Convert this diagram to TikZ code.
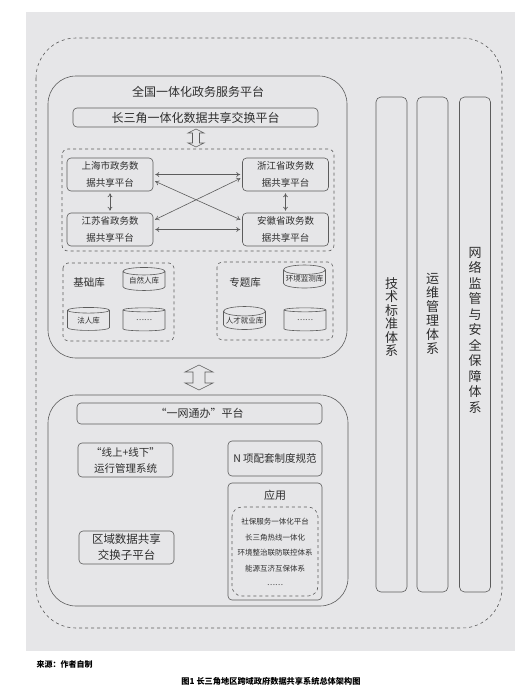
\documentclass[tikz,border=0pt]{standalone}
\usepackage{fontspec}
\setmainfont{Noto Sans CJK SC}
\usepackage{xcolor}
\usepackage{tikz}
\usetikzlibrary{arrows.meta, positioning, shapes.geometric}

\definecolor{bggray}{HTML}{E6E6E8}
\definecolor{linegray}{HTML}{5C5C5C}
\definecolor{txtgray}{HTML}{2E2E2E}

\begin{document}
\begin{tikzpicture}[x=1pt, y=-1pt, >={To[length=4pt,width=5pt]}, line width=0.6pt, text=txtgray,
  box/.style={draw=linegray, rounded corners=4pt, align=center, inner sep=0pt},
  db/.style={draw=linegray, cylinder, shape border rotate=90, aspect=0.25, minimum width=42pt, minimum height=23pt, inner sep=0pt, font=\fontsize{7.5}{9}\selectfont},
  bar/.style={draw=linegray, rounded corners=5pt, minimum width=31pt, minimum height=495pt, inner sep=0pt},
  link/.style={<->, linegray, shorten <=2pt, shorten >=2pt},
  ]
  \useasboundingbox (0,0) rectangle (527,697);
  % Background and outer frame
  \fill[bggray] (26,12) rectangle (515,651);
  \draw[linegray, dashed, rounded corners=40pt] (36,38) rectangle (502,628);

  % Upper platform
  \draw[linegray, rounded corners=28pt] (48,76) rectangle (347,358);
  \node[font=\fontsize{12}{14}\selectfont] (gov) at (198,92) {全国一体化政务服务平台};
  \node[box, minimum width=245pt, minimum height=19pt, font=\fontsize{12}{14}\selectfont] (xchg) at (195.5,117.5) {长三角一体化数据共享交换平台};
  % hollow double arrow
  \draw[linegray, shift={(196,138)}] (-3.5,-5) -- (-8,-5) -- (0,-9) -- (8,-5) -- (3.5,-5) -- (3.5,5) -- (8,5) -- (0,9) -- (-8,5) -- (-3.5,5) -- cycle;

  % Provincial platforms
  \draw[linegray, dashed, rounded corners=6pt] (62,149) rectangle (334,251);
  \node[box, minimum width=86pt, minimum height=33pt, font=\fontsize{9.5}{17}\selectfont] (sh) at (110,174.5) {上海市政务数\\据共享平台};
  \node[box, minimum width=86pt, minimum height=33pt, font=\fontsize{9.5}{17}\selectfont] (zj) at (285.5,174.5) {浙江省政务数\\据共享平台};
  \node[box, minimum width=86pt, minimum height=33pt, font=\fontsize{9.5}{17}\selectfont] (js) at (110,229.5) {江苏省政务数\\据共享平台};
  \node[box, minimum width=86pt, minimum height=33pt, font=\fontsize{9.5}{17}\selectfont] (ah) at (285.5,229.5) {安徽省政务数\\据共享平台};
  \draw[link] (sh.east) -- (zj.west);
  \draw[link] (js.east) -- (ah.west);
  \draw[link] ([yshift=-6pt]sh.east) -- ([yshift=9pt]ah.west);
  \draw[link] ([yshift=9pt]js.east) -- ([yshift=-3pt]zj.west);
  \draw[link] (sh.south) -- (js.north);
  \draw[link] (zj.south) -- (ah.north);

  % Databases
  \draw[linegray, dashed, rounded corners=5pt] (63,263) rectangle (174,341);
  \draw[linegray, dashed, rounded corners=5pt] (217,262) rectangle (333,340);
  \node[font=\fontsize{10.5}{12}\selectfont] (basic) at (89,283) {基础库};
  \node[font=\fontsize{10.5}{12}\selectfont] (topic) at (245,283) {专题库};
  \node[db] (person) at (144,281) {自然人库};
  \node[db] (legal) at (88.5,320.5) {法人库};
  \node[db] (more1) at (144,320.5) {……};
  \node[db] (env) at (304.5,279) {环境监测库};
  \node[db] (talent) at (244.5,320.5) {人才就业库};
  \node[db] (more2) at (305,320.5) {……};

  % hollow double arrow
  \draw[linegray, shift={(199,377.5)}] (-6,-5.5) -- (-14,-5.5) -- (0,-12.5) -- (14,-5.5) -- (6,-5.5) -- (6,5.5) -- (14,5.5) -- (0,12.5) -- (-14,5.5) -- (-6,5.5) -- cycle;

  % Lower platform
  \draw[linegray, rounded corners=28pt] (48,395) rectangle (348,606);
  \node[box, minimum width=245pt, minimum height=21pt, font=\fontsize{11}{13}\selectfont] (ywtb) at (199.5,413.5) {“一网通办”平台};
  \node[box, minimum width=95pt, minimum height=34pt, font=\fontsize{10.5}{16}\selectfont] (ops) at (125.5,460) {“线上+线下”\\运行管理系统};
  \node[box, minimum width=94pt, minimum height=35pt, font=\fontsize{10.5}{13}\selectfont] (rules) at (275,458.5) {N 项配套制度规范};
  \node[box, minimum width=95pt, minimum height=33pt, font=\fontsize{11.5}{16}\selectfont] (sub) at (126.5,547.5) {区域数据共享\\交换子平台};
  \node[box, minimum width=94pt, minimum height=117pt] (app) at (275,541.5) {};
  \node[font=\fontsize{11}{13}\selectfont] (apptitle) at (275,495) {应用};
  \draw[linegray, dashed, rounded corners=10pt] (232,507) rectangle (318,596);
  \node[font=\fontsize{7.5}{9}\selectfont] (app1) at (275,522) {社保服务一体化平台};
  \node[font=\fontsize{7.5}{9}\selectfont] (app2) at (275,538) {长三角热线一体化};
  \node[font=\fontsize{7.5}{9}\selectfont] (app3) at (275,553) {环境整治联防联控体系};
  \node[font=\fontsize{7.5}{9}\selectfont] (app4) at (275,569) {能源互济互保体系};
  \node[font=\fontsize{7.5}{9}\selectfont] (app5) at (275,585) {……};

  % Support systems
  \node[bar] (tech) at (391.5,344.5) {};
  \node[bar] (maint) at (432.5,344.5) {};
  \node[bar] (sec) at (475,344.5) {};
  \node[align=center, font=\fontsize{13}{13.5}\selectfont] (techtxt) at (391.5,317) {技\\术\\标\\准\\体\\系};
  \node[align=center, font=\fontsize{13}{14}\selectfont] (mainttxt) at (432.5,314) {运\\维\\管\\理\\体\\系};
  \node[align=center, font=\fontsize{13}{15.5}\selectfont] (sectxt) at (475,330) {网\\络\\监\\管\\与\\安\\全\\保\\障\\体\\系};

  % Source and caption
  \node[anchor=west, text=black, font=\fontsize{8}{10}\selectfont\bfseries] (src) at (33,664) {来源：作者自制};
  \node[text=black, font=\fontsize{8.2}{10}\selectfont\bfseries] (cap) at (271,681) {图1\ 长三角地区跨域政府数据共享系统总体架构图};
\end{tikzpicture}
\end{document}
